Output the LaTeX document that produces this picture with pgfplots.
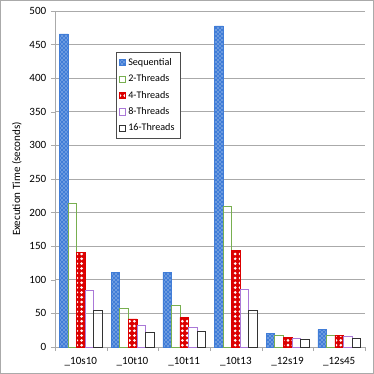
\documentclass[border=0pt]{standalone}
\usepackage{fontspec}
\setmainfont{Carlito}
\usepackage{pgfplots}
\pgfplotsset{compat=1.18}
\usetikzlibrary{patterns}

\definecolor{seqBlue}{RGB}{65,125,215}
\definecolor{twoGreen}{RGB}{120,175,80}
\definecolor{fourRed}{RGB}{220,0,0}
\definecolor{eightPurple}{RGB}{170,120,215}
\definecolor{gridGray}{RGB}{170,170,170}

\pgfdeclarepatternformonly{bigdots}{\pgfqpoint{-1.2pt}{-1.2pt}}{\pgfqpoint{1.2pt}{1.2pt}}{\pgfqpoint{3.6pt}{3.6pt}}{%
  \pgfpathcircle{\pgfqpoint{0pt}{0pt}}{1.1pt}\pgfusepath{fill}}

\begin{document}
\begin{tikzpicture}[font=\fontsize{8.3}{10}\selectfont]
  \begin{axis}[
    at={(0,0)}, anchor=south west,
    scale only axis,
    width=232.5pt, height=252pt,
    ybar=0pt, bar width=6.4pt,
    xmin=-0.5, xmax=5.5,
    ymin=0, ymax=500,
    ytick={0,50,...,500},
    xtick={0,...,5},
    xticklabels={\_10s10,\_10t10,\_10t11,\_10t13,\_12s19,\_12s45},
    minor xtick={-0.5,0.5,...,5.5},
    major x tick style={draw=none},
    minor tick length=3pt,
    major tick length=3pt,
    tick align=outside,
    tick style={gridGray},
    xtick pos=bottom, ytick pos=left,
    axis x line*=bottom, axis y line*=left,
    axis line style={gridGray, -},
    ymajorgrids, grid style={gridGray, line width=0.6pt},
    ylabel={Execution Time (seconds)},
    ylabel style={yshift=-1pt},
    /pgf/number format/assume math mode=true,
    tick label style={font=\fontsize{8.3}{10}\selectfont},
    x tick label style={yshift=-1pt},
    legend style={at={(rel axis cs:0.196,0.878)}, anchor=north west,
      draw=black!70, fill=white, font=\fontsize{7.6}{9}\selectfont,
      row sep=1.5pt, inner xsep=2pt, inner ysep=2.5pt},
    legend cell align=left,
    legend image code/.code={\draw[#1,line width=0.6pt] (0pt,-2.3pt) rectangle (4.6pt,2.3pt);},
  ]
    \addplot[draw=seqBlue, fill=seqBlue, postaction={pattern=crosshatch dots, pattern color=white}]
      coordinates {(0,466) (1,111) (2,111) (3,478) (4,20) (5,26)};
    \addplot[draw=twoGreen, fill=none]
      coordinates {(0,214) (1,57) (2,62) (3,210) (4,17) (5,17)};
    \addplot[draw=fourRed, fill=fourRed, postaction={pattern=bigdots, pattern color=white}]
      coordinates {(0,141) (1,42) (2,44) (3,144) (4,14) (5,17)};
    \addplot[draw=eightPurple, fill=none]
      coordinates {(0,85) (1,32) (2,30) (3,86) (4,13.5) (5,15.5)};
    \addplot[draw=black!80, fill=none]
      coordinates {(0,55) (1,22) (2,23.5) (3,55) (4,11.5) (5,13.5)};
    \legend{Sequential,2-Threads,4-Threads,8-Threads,16-Threads}
  \end{axis}
  % frame around the whole chart (374 px = 280.5 pt)
  \pgfresetboundingbox
  \draw[gridGray, line width=0.6pt] (-40.9pt,-19.9pt) rectangle (238.9pt,259.9pt);
  \path[use as bounding box] (-41.25pt,-20.25pt) rectangle (239.25pt,260.25pt);
\end{tikzpicture}
\end{document}
